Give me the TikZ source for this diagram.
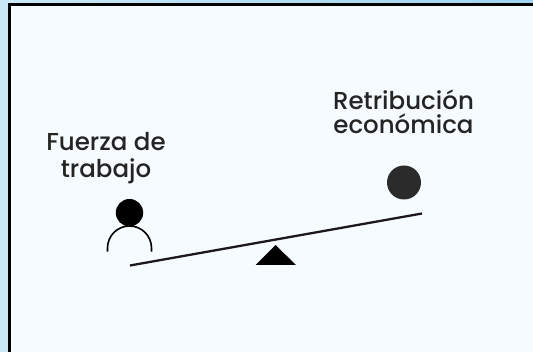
\documentclass[tikz,border=0pt]{standalone}
\usepackage{fontspec}
\setmainfont{Poppins Medium}
\definecolor{panel}{HTML}{F6FBFF}
\definecolor{outer}{HTML}{CBE8F7}
\definecolor{outertop}{HTML}{9FD4EF}
\definecolor{ink}{HTML}{242424}
\definecolor{disc}{HTML}{2B2B2B}
\definecolor{beam}{HTML}{1D1820}
\tikzset{
  px/.style={x=1pt,y=-1pt},
  label text/.style={text=ink,align=center,inner sep=0pt},
}
\begin{document}
\begin{tikzpicture}[px]
\useasboundingbox (0,0) rectangle (533,352);
\fill[outer] (0,0) rectangle (533,352);
\fill[left color=outer,right color=outertop] (0,0) rectangle (533,5);
\fill[panel] (9,5) rectangle (533,352);
\draw[black,line width=3pt] (9,352) -- (9,5) -- (533,5);
\node[label text,font=\fontsize{24.5}{26.5}\selectfont] (fuerza) at (106,158) {Fuerza de\\trabajo};
\node[label text,font=\fontsize{24.5}{24.5}\selectfont] (retrib) at (403.5,112) {Retribución\\económica};
\fill[black] (129.5,212.7) circle (13.7);
\draw[black,line width=1.6pt] (107.5,251.7) -- (107.5,248) arc (180:360:22) -- (151.5,251.7);
\fill[disc] (404,182.5) circle (17);
\draw[beam,line width=2.3pt] (130,265.5) -- (422,213.5);
\fill[black] (255.5,265) -- (275.5,245) -- (296,265) -- cycle;
\end{tikzpicture}
\end{document}
